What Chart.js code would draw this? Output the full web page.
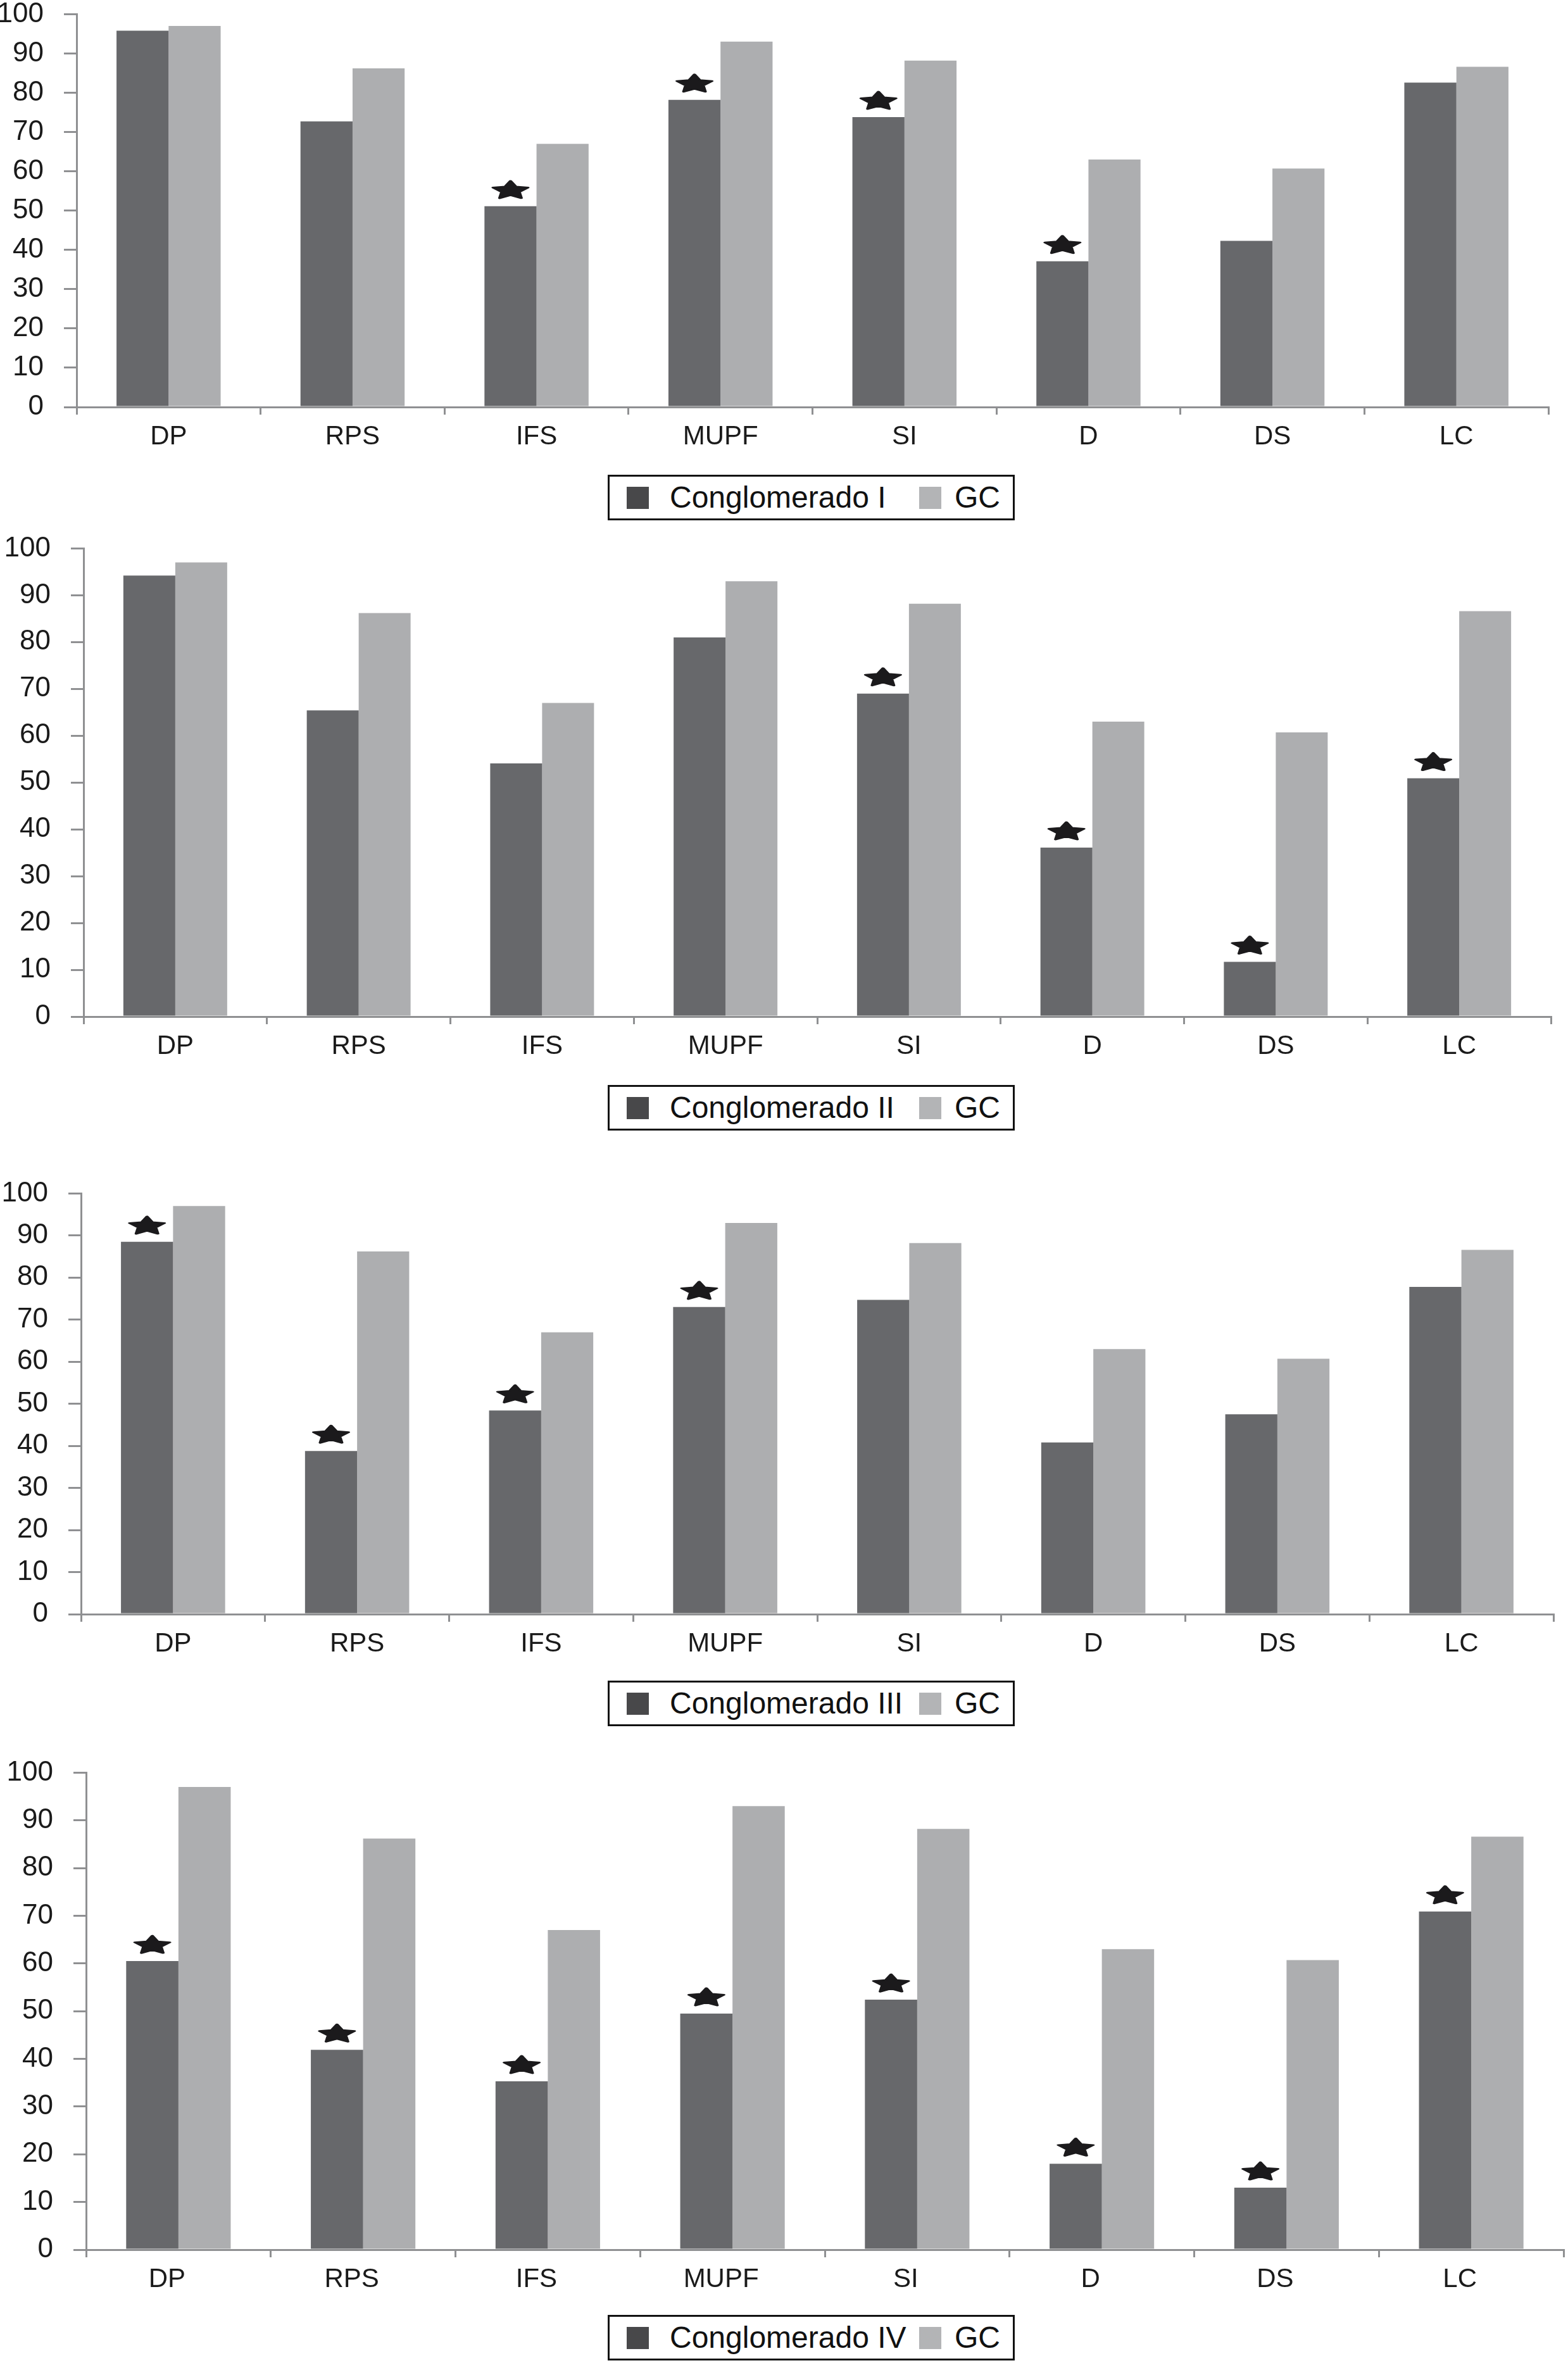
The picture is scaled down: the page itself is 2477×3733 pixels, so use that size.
<!DOCTYPE html>
<html>
<head>
<meta charset="utf-8">
<script src="https://cdn.jsdelivr.net/npm/chart.js@4.4.1/dist/chart.umd.min.js"></script>
<style>
  body { margin: 0; background: #ffffff; width: 2477px; height: 3733px; position: relative; overflow: hidden; }
  .panel { position: absolute; left: 0; }
  .legend { position: absolute; left: 960px; width: 637px; height: 66px; border: 3px solid #111; background: #fff;
            font-family: "Liberation Sans", Arial, sans-serif; font-size: 48px; color: #111; }
  .legend .sw { position: absolute; top: 16px; width: 35px; height: 35px; }
  .legend .tx { position: absolute; top: 0; line-height: 66px; white-space: nowrap; }
</style>
</head>
<body>
<div class="panel" style="top:-36px"><canvas id="chart1" width="2477" height="776"></canvas></div>
<div class="panel" style="top:808px"><canvas id="chart2" width="2477" height="892"></canvas></div>
<div class="panel" style="top:1827px"><canvas id="chart3" width="2477" height="813"></canvas></div>
<div class="panel" style="top:2742px"><canvas id="chart4" width="2477" height="898"></canvas></div>

<div class="legend" id="legend1" style="top:750px"></div>
<div class="legend" id="legend2" style="top:1714px"></div>
<div class="legend" id="legend3" style="top:2655px"></div>
<div class="legend" id="legend4" style="top:3657px"></div>

<script>
const categories = ["DP", "RPS", "IFS", "MUPF", "SI", "D", "DS", "LC"];
const yTicks = [0, 10, 20, 30, 40, 50, 60, 70, 80, 90, 100];

// control group, same in all four panels
const gc = [97, 86.2, 67, 93, 88.2, 63, 60.7, 86.6];

const cong1 = [95.8, 72.7, 51.1, 78.2, 73.8, 37.1, 42.3, 82.6];
const cong2 = [94.2, 65.4, 54.1, 81.0, 69.0, 36.1, 11.7, 50.9];
const cong3 = [88.5, 38.8, 48.4, 73.0, 74.7, 40.8, 47.5, 77.8];
const cong4 = [60.5, 41.9, 35.3, 49.5, 52.4, 18.0, 13.0, 70.9];

// significant differences (star over the cluster bar)
const stars1 = [0, 0, 1, 1, 1, 1, 0, 0];
const stars2 = [0, 0, 0, 0, 1, 1, 1, 1];
const stars3 = [1, 1, 1, 1, 0, 0, 0, 0];
const stars4 = [1, 1, 1, 1, 1, 1, 1, 1];

const names = ["Conglomerado I", "Conglomerado II", "Conglomerado III", "Conglomerado IV"];

const darkBar = "#67686b";
const lightBar = "#adaeb0";
const axisColor = "#8f9092";
const textColor = "#1a1a1a";
const fontFamily = "'Liberation Sans', Arial, sans-serif";

function DrawStar(ctx, cx, cy) {
  let R = 29;
  let r = 14.5;
  ctx.save();
  ctx.translate(cx, cy);
  ctx.scale(1, 0.52);
  ctx.beginPath();
  for (let k = 0; k < 10; k++) {
    let rad = k % 2 == 0 ? R : r;
    let a = -Math.PI / 2 + (k * Math.PI) / 5;
    if (k == 0) ctx.moveTo(rad * Math.cos(a), rad * Math.sin(a));
    else ctx.lineTo(rad * Math.cos(a), rad * Math.sin(a));
  }
  ctx.closePath();
  ctx.fillStyle = "#1b1a1c";
  ctx.strokeStyle = "#1b1a1c";
  ctx.lineWidth = 5;
  ctx.lineJoin = "round";
  ctx.fill();
  ctx.stroke();
  ctx.restore();
}

const starPlugin = {
  id: "stars",
  afterDatasetsDraw(chart, args, opts) {
    const meta = chart.getDatasetMeta(0);
    const ctx = chart.ctx;
    for (let i = 0; i < meta.data.length; i++) {
      if (!opts.marks[i]) continue;
      let bar = meta.data[i];
      DrawStar(ctx, bar.x, bar.y - 25);
    }
  },
};

function Bars(id, label, values, stars, box) {
  const data = {
    labels: categories,
    datasets: [
      {
        label: label,
        data: values,
        backgroundColor: darkBar,
        categoryPercentage: 0.566,
        barPercentage: 1,
      },
      {
        label: "GC",
        data: gc,
        backgroundColor: lightBar,
        categoryPercentage: 0.566,
        barPercentage: 1,
      },
    ],
  };
  const config = {
    type: "bar",
    data: data,
    options: {
      responsive: false,
      animation: false,
      devicePixelRatio: 1,
      layout: {
        autoPadding: false,
        padding: { top: box.padTop, right: box.padRight, left: 0, bottom: 0 },
      },
      plugins: {
        legend: { display: false },
        tooltip: { enabled: false },
        stars: { marks: stars },
      },
      scales: {
        x: {
          grid: {
            display: true,
            drawOnChartArea: false,
            offset: true,
            color: axisColor,
            lineWidth: 3,
            tickLength: 12,
          },
          border: { color: axisColor, width: 3 },
          ticks: {
            color: textColor,
            font: { family: fontFamily, size: 42 },
            padding: 10,
            labelOffset: box.labelShift,
            maxRotation: 0,
          },
          afterFit: (s) => {
            s.height = box.xHeight;
          },
        },
        y: {
          min: 0,
          max: 100,
          afterBuildTicks: (s) => {
            s.ticks = yTicks.map((v) => ({ value: v }));
          },
          grid: {
            display: true,
            drawOnChartArea: false,
            color: axisColor,
            lineWidth: 3,
            tickLength: 20,
          },
          border: { color: axisColor, width: 3 },
          ticks: {
            color: textColor,
            font: { family: fontFamily, size: 44 },
            padding: 32,
          },
          afterFit: (s) => {
            s.width = box.yWidth;
          },
        },
      },
    },
    plugins: [starPlugin],
  };
  new Chart(document.getElementById(id), config);
}

function Legend(id, label) {
  let el = document.getElementById(id);
  el.innerHTML =
    "<div class='sw' style='left:27px;background:#48484a'></div>" +
    "<div class='tx' style='left:95px'>" + label + "</div>" +
    "<div class='sw' style='left:489px;background:#b3b4b6'></div>" +
    "<div class='tx' style='left:545px'>GC</div>";
}

Bars("chart1", names[0], cong1, stars1, { padTop: 18, padRight: 31, xHeight: 97, yWidth: 121, labelShift: 0 });
Bars("chart2", names[1], cong2, stars2, { padTop: 20, padRight: 27, xHeight: 94, yWidth: 132, labelShift: 0 });
Bars("chart3", names[2], cong3, stars3, { padTop: 23, padRight: 23, xHeight: 90, yWidth: 128, labelShift: 0 });
Bars("chart4", names[3], cong4, stars4, { padTop: 17, padRight: 7, xHeight: 86, yWidth: 136, labelShift: -18 });

Legend("legend1", names[0]);
Legend("legend2", names[1]);
Legend("legend3", names[2]);
Legend("legend4", names[3]);
</script>
</body>
</html>
